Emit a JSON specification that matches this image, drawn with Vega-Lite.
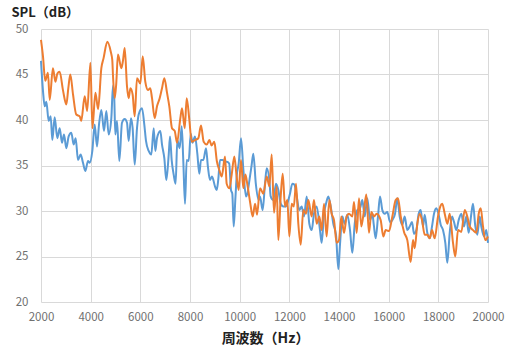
{
  "$schema": "https://vega.github.io/schema/vega-lite/v6.json",
  "autosize": {"type": "none"},
  "width": 447,
  "height": 273,
  "padding": {"left": 41, "top": 29, "right": 20, "bottom": 45},
  "background": "white",
  "config": {
    "font": "Noto Sans CJK JP",
    "view": {"stroke": null},
    "axis": {"gridColor": "#d9d9d9", "gridWidth": 1, "domain": false, "ticks": false, "labelColor": "#707070", "labelFontSize": 11.5, "labelFont": "Noto Sans CJK JP"}
  },
  "encoding": {
    "x": {"field": "f", "type": "quantitative", "scale": {"domain": [2000, 20000], "nice": false},
      "axis": {"values": [2000,4000,6000,8000,10000,12000,14000,16000,18000,20000], "format": "d", "labelPadding": 9, "labelFlush": false,
        "title": "周波数（Hz）", "titleFontSize": 14, "titleFontWeight": "bold", "titleColor": "#222222", "titleBaseline": "middle", "titleY": 36, "titleX": 224}},
    "y": {"field": "v", "type": "quantitative", "scale": {"domain": [20, 50], "nice": false, "zero": false},
      "axis": {"values": [20,25,30,35,40,45,50], "labelPadding": 13,
        "title": "SPL（dB）", "titleAngle": 0, "titleAlign": "left", "titleBaseline": "middle", "titleX": -30, "titleY": -17, "titleFontSize": 13, "titleFontWeight": "bold", "titleColor": "#222222"}}
  },
  "layer": [
    {
      "data": {"values": [
        {"f":2000,"v":46.5},{"f":2080,"v":43.2},{"f":2148,"v":41.5},{"f":2215,"v":42},{"f":2309,"v":39.9},{"f":2390,"v":40.4},{"f":2456,"v":37.8},{"f":2550,"v":40.3},{"f":2657,"v":38},{"f":2752,"v":39.1},{"f":2846,"v":37.5},{"f":2926,"v":38.4},{"f":3020,"v":36.9},{"f":3114,"v":38.2},{"f":3221,"v":38.6},{"f":3315,"v":37.3},{"f":3396,"v":38},{"f":3490,"v":35.6},{"f":3597,"v":36.2},{"f":3691,"v":35.3},{"f":3785,"v":34.4},{"f":3893,"v":35.5},{"f":3960,"v":35.3},{"f":4067,"v":36.6},{"f":4161,"v":39.5},{"f":4255,"v":37.1},{"f":4336,"v":39.5},{"f":4430,"v":41.1},{"f":4537,"v":38.8},{"f":4631,"v":41},{"f":4725,"v":38.4},{"f":4832,"v":40.2},{"f":4900,"v":43.8},{"f":4950,"v":42.4},{"f":4993,"v":38.4},{"f":5060,"v":39.9},{"f":5154,"v":35.5},{"f":5262,"v":39.7},{"f":5370,"v":40.1},{"f":5463,"v":39.7},{"f":5530,"v":37.7},{"f":5624,"v":40.2},{"f":5690,"v":39.1},{"f":5773,"v":35.1},{"f":5866,"v":39.1},{"f":5933,"v":40.6},{"f":6067,"v":41.3},{"f":6160,"v":39.5},{"f":6228,"v":37.7},{"f":6337,"v":36.6},{"f":6442,"v":36.2},{"f":6538,"v":39.1},{"f":6603,"v":36.6},{"f":6671,"v":38},{"f":6805,"v":38.8},{"f":6873,"v":37.3},{"f":6966,"v":35.8},{"f":7046,"v":33.4},{"f":7143,"v":36.2},{"f":7195,"v":38.2},{"f":7262,"v":35.6},{"f":7343,"v":34},{"f":7420,"v":33},{"f":7490,"v":37.8},{"f":7584,"v":36.9},{"f":7666,"v":39.3},{"f":7730,"v":35.5},{"f":7799,"v":30.8},{"f":7867,"v":35.6},{"f":7948,"v":35.5},{"f":8028,"v":38.5},{"f":8100,"v":37.5},{"f":8201,"v":38.2},{"f":8295,"v":36.3},{"f":8375,"v":34.1},{"f":8443,"v":35.6},{"f":8536,"v":35.6},{"f":8645,"v":36.9},{"f":8720,"v":34.9},{"f":8806,"v":33.4},{"f":8886,"v":33.8},{"f":9007,"v":32.7},{"f":9074,"v":32.3},{"f":9140,"v":33.5},{"f":9208,"v":35.6},{"f":9316,"v":35.6},{"f":9400,"v":35.4},{"f":9477,"v":35.4},{"f":9580,"v":35.2},{"f":9651,"v":32.3},{"f":9704,"v":31.9},{"f":9759,"v":28.3},{"f":9830,"v":31.5},{"f":9880,"v":33.8},{"f":9960,"v":35.2},{"f":10054,"v":38},{"f":10150,"v":34.5},{"f":10255,"v":31.6},{"f":10308,"v":31.9},{"f":10400,"v":33.5},{"f":10480,"v":35},{"f":10550,"v":36.3},{"f":10650,"v":33},{"f":10765,"v":31.2},{"f":10819,"v":31.6},{"f":10926,"v":30.1},{"f":11020,"v":33},{"f":11089,"v":34.7},{"f":11196,"v":33.4},{"f":11249,"v":31.6},{"f":11356,"v":31.2},{"f":11463,"v":33},{"f":11557,"v":32.3},{"f":11653,"v":30.8},{"f":11759,"v":30.5},{"f":11866,"v":30.5},{"f":11960,"v":31.2},{"f":12027,"v":31.9},{"f":12120,"v":33},{"f":12201,"v":32.9},{"f":12297,"v":31.6},{"f":12402,"v":30.1},{"f":12498,"v":30.5},{"f":12591,"v":29.4},{"f":12700,"v":31.6},{"f":12805,"v":28.6},{"f":12900,"v":27.9},{"f":12993,"v":29.7},{"f":13101,"v":30.5},{"f":13235,"v":27.9},{"f":13302,"v":26.5},{"f":13396,"v":29.7},{"f":13477,"v":30.8},{"f":13570,"v":31.6},{"f":13666,"v":30.5},{"f":13771,"v":28.6},{"f":13879,"v":27.4},{"f":13973,"v":23.6},{"f":14040,"v":26.3},{"f":14134,"v":29.4},{"f":14229,"v":28.6},{"f":14335,"v":29.6},{"f":14443,"v":27.9},{"f":14537,"v":25.4},{"f":14633,"v":28.6},{"f":14738,"v":30.1},{"f":14846,"v":30.3},{"f":14939,"v":31.2},{"f":15036,"v":29.4},{"f":15140,"v":31.4},{"f":15249,"v":29},{"f":15342,"v":29.7},{"f":15400,"v":28.5},{"f":15477,"v":27},{"f":15571,"v":29.4},{"f":15651,"v":31.6},{"f":15745,"v":30.1},{"f":15840,"v":29.7},{"f":15945,"v":29.9},{"f":16054,"v":28.8},{"f":16148,"v":29},{"f":16256,"v":29.7},{"f":16349,"v":31.4},{"f":16443,"v":29.4},{"f":16550,"v":28.5},{"f":16645,"v":29.4},{"f":16751,"v":27.9},{"f":16846,"v":28.3},{"f":16940,"v":28.8},{"f":17020,"v":27.5},{"f":17114,"v":27.9},{"f":17209,"v":29.7},{"f":17290,"v":30.1},{"f":17383,"v":28.3},{"f":17451,"v":29.6},{"f":17556,"v":27.6},{"f":17653,"v":27},{"f":17745,"v":28.3},{"f":17826,"v":29.7},{"f":17920,"v":30.3},{"f":18015,"v":29.6},{"f":18095,"v":28.5},{"f":18188,"v":27.9},{"f":18281,"v":26.5},{"f":18362,"v":24.3},{"f":18458,"v":27.6},{"f":18551,"v":29.4},{"f":18631,"v":28.8},{"f":18724,"v":27.9},{"f":18819,"v":29},{"f":18926,"v":29.7},{"f":19034,"v":28.3},{"f":19127,"v":29.4},{"f":19222,"v":27.6},{"f":19329,"v":29.7},{"f":19396,"v":30.8},{"f":19490,"v":28.3},{"f":19570,"v":27.4},{"f":19666,"v":29.4},{"f":19731,"v":28.3},{"f":19839,"v":27.2},{"f":19932,"v":27.9},{"f":20000,"v":26.5}
      ]},
      "mark": {"type": "line", "color": "#5b9bd5", "strokeWidth": 2, "interpolate": "monotone"}
    },
    {
      "data": {"values": [
        {"f":2000,"v":48.8},{"f":2080,"v":47},{"f":2170,"v":44.3},{"f":2280,"v":45.2},{"f":2350,"v":42.2},{"f":2480,"v":45.7},{"f":2580,"v":44.2},{"f":2660,"v":45.1},{"f":2750,"v":45.3},{"f":2890,"v":43.2},{"f":3020,"v":41.7},{"f":3100,"v":43.5},{"f":3180,"v":45},{"f":3290,"v":42.8},{"f":3420,"v":40.6},{"f":3560,"v":40.4},{"f":3620,"v":39.9},{"f":3760,"v":42.6},{"f":3860,"v":41},{"f":3990,"v":46.3},{"f":4070,"v":39.1},{"f":4190,"v":43},{"f":4300,"v":41.2},{"f":4430,"v":45.7},{"f":4520,"v":46.8},{"f":4670,"v":48.6},{"f":4810,"v":47.5},{"f":4870,"v":46.6},{"f":4900,"v":44.8},{"f":4970,"v":42.4},{"f":5030,"v":44},{"f":5100,"v":47.2},{"f":5235,"v":45.7},{"f":5300,"v":46.5},{"f":5370,"v":47.9},{"f":5463,"v":43.7},{"f":5530,"v":42.4},{"f":5600,"v":43.5},{"f":5690,"v":42.8},{"f":5773,"v":40.4},{"f":5866,"v":44.6},{"f":6000,"v":44},{"f":6095,"v":47},{"f":6200,"v":44.2},{"f":6309,"v":43.3},{"f":6400,"v":43.5},{"f":6470,"v":42.4},{"f":6578,"v":40.2},{"f":6671,"v":41.5},{"f":6779,"v":42.4},{"f":6873,"v":43.5},{"f":6966,"v":44.6},{"f":7074,"v":43},{"f":7167,"v":41.5},{"f":7275,"v":39.1},{"f":7384,"v":38.8},{"f":7477,"v":37.5},{"f":7611,"v":40.2},{"f":7678,"v":41.3},{"f":7787,"v":39.1},{"f":7867,"v":42.4},{"f":7974,"v":40},{"f":8068,"v":37.6},{"f":8200,"v":37.8},{"f":8335,"v":38},{"f":8443,"v":39.4},{"f":8550,"v":37.6},{"f":8672,"v":37.3},{"f":8780,"v":37.8},{"f":8870,"v":37.2},{"f":8979,"v":37.6},{"f":9080,"v":35.5},{"f":9181,"v":34.5},{"f":9280,"v":33.8},{"f":9410,"v":36},{"f":9477,"v":33},{"f":9590,"v":32.5},{"f":9679,"v":34},{"f":9785,"v":36},{"f":9870,"v":34},{"f":9960,"v":32.3},{"f":10054,"v":35.6},{"f":10148,"v":32.5},{"f":10230,"v":34},{"f":10322,"v":32.7},{"f":10430,"v":30.8},{"f":10525,"v":29.4},{"f":10620,"v":30.8},{"f":10700,"v":29.6},{"f":10819,"v":32.5},{"f":10952,"v":31.9},{"f":11089,"v":33.8},{"f":11196,"v":32.7},{"f":11290,"v":36.2},{"f":11383,"v":29.8},{"f":11491,"v":32.7},{"f":11557,"v":26.8},{"f":11653,"v":31.6},{"f":11733,"v":34.1},{"f":11826,"v":30.5},{"f":11919,"v":31.2},{"f":12000,"v":27.2},{"f":12095,"v":30.8},{"f":12180,"v":30.5},{"f":12269,"v":33},{"f":12362,"v":28.6},{"f":12458,"v":26.3},{"f":12563,"v":30.1},{"f":12670,"v":29.7},{"f":12765,"v":31.2},{"f":12900,"v":29.4},{"f":12993,"v":31.2},{"f":13101,"v":28.6},{"f":13208,"v":29.4},{"f":13302,"v":27.9},{"f":13396,"v":30.8},{"f":13503,"v":27.2},{"f":13610,"v":31.2},{"f":13704,"v":29.7},{"f":13799,"v":29},{"f":13906,"v":26.5},{"f":14000,"v":26.8},{"f":14093,"v":29.4},{"f":14201,"v":27.6},{"f":14309,"v":29.4},{"f":14403,"v":29.7},{"f":14537,"v":29.4},{"f":14604,"v":31},{"f":14713,"v":27.6},{"f":14806,"v":31.4},{"f":14899,"v":28.3},{"f":15007,"v":30.1},{"f":15100,"v":31.8},{"f":15208,"v":27.6},{"f":15302,"v":29.9},{"f":15409,"v":29.4},{"f":15517,"v":29.7},{"f":15678,"v":29},{"f":15785,"v":27.2},{"f":15880,"v":27.9},{"f":16014,"v":27.8},{"f":16148,"v":29.4},{"f":16283,"v":31.2},{"f":16376,"v":31.4},{"f":16485,"v":29.4},{"f":16618,"v":27.7},{"f":16751,"v":26.8},{"f":16886,"v":24.4},{"f":16980,"v":26.8},{"f":17048,"v":25.9},{"f":17154,"v":28.6},{"f":17250,"v":29.7},{"f":17343,"v":29},{"f":17451,"v":27.4},{"f":17556,"v":27.4},{"f":17653,"v":27},{"f":17745,"v":27.9},{"f":17854,"v":27},{"f":17987,"v":29.4},{"f":18080,"v":30.5},{"f":18160,"v":30.8},{"f":18257,"v":29.7},{"f":18362,"v":28.6},{"f":18458,"v":29.7},{"f":18591,"v":26.5},{"f":18684,"v":25},{"f":18793,"v":27.9},{"f":18926,"v":27.7},{"f":19062,"v":30.1},{"f":19167,"v":29.4},{"f":19264,"v":28.3},{"f":19396,"v":27.9},{"f":19530,"v":27.6},{"f":19626,"v":29.7},{"f":19707,"v":30.3},{"f":19799,"v":28.3},{"f":19892,"v":26.8},{"f":20000,"v":27.2}
      ]},
      "mark": {"type": "line", "color": "#ed7d31", "strokeWidth": 2, "interpolate": "monotone"}
    }
  ]
}
